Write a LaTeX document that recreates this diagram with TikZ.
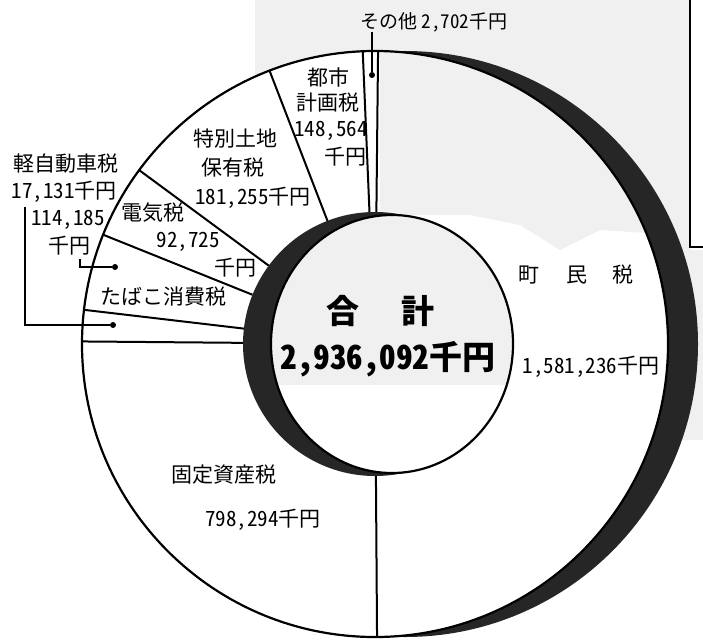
\documentclass[tikz,border=0pt]{standalone}
\usepackage{fontspec}
\setmainfont{Noto Sans CJK JP}
\newfontfamily\numf{Noto Sans CJK JP}[CharacterWidth=Half]
\newcommand\labfont{\fontsize{21}{24}\selectfont}
\newcommand\smallfont{\fontsize{19}{22}\selectfont}
\newcommand\bigfont{\fontsize{33}{36}\selectfont\bfseries}
\colorlet{bgdot}{black!6}
\colorlet{darkband}{black!85}
\begin{document}
\begin{tikzpicture}[x=1pt,y=-1pt,
  lbl/.style={font=\labfont, inner sep=0pt},
  seg/.style={line width=2pt},
  rim/.style={line width=2.2pt},
  leader/.style={line width=1.2pt},
  dotmark/.style={circle, fill=black, minimum size=6pt, inner sep=0pt}]
\useasboundingbox (0,0) rectangle (703,639);
\fill[white] (0,0) rectangle (703,639);
% background stipple areas
\fill[bgdot] (255,0) -- (690,0) -- (690,250) -- (703,250) -- (703,440) -- (600,440) -- (600,150) -- (255,150) -- cycle;
\coordinate (c) at (375,344);
\coordinate (cs) at (405,344);
% outer shadow and ring
\fill[darkband] (cs) circle[radius=293pt];
\fill[white] (c) circle[radius=293pt];
\begin{scope}
  \clip (c) -- ([shift={(89.4:300pt)}]c) -- (700,40) -- (700,639) -- ([shift={(270.4:300pt)}]c) -- cycle;
  \clip (c) circle[radius=293pt];
  \fill[bgdot] (380,40) -- (680,40) -- (680,235) -- (600,230) -- (560,250) -- (520,225) -- (470,215) -- (380,215) -- cycle;
\end{scope}
\draw[rim] (c) circle[radius=293pt];
% segment boundaries
\foreach \a in {89.4,92.4,111.1,143.6,158.1,173.3,179.5,270.4}
  \draw[seg] ([shift={(\a:132pt)}]c) -- ([shift={(\a:293pt)}]c);
% inner shadow crescent and centre disk
\fill[darkband] (c) circle[radius=132pt];
\coordinate (ci) at (392,344);
\fill[white] (ci) ellipse[x radius=121pt, y radius=129pt];
\begin{scope}
  \clip (ci) ellipse[x radius=121pt, y radius=129pt];
  \fill[bgdot] (260,200) rectangle (520,385);
\end{scope}
\draw[rim] (ci) ellipse[x radius=121pt, y radius=129pt];
% box at top right
\draw[line width=1.8pt] (704,247) -- (690,247) -- (690,-2);
% labels
\node[lbl, font=\smallfont] (sonota) at (434,22) {その他 {\numf 2,702}千円};
\node[dotmark] (dso) at (372,75) {};
\draw[leader] (sonota.south -| dso) -- (dso);

\node[lbl] (tk1) at (328,78) {都市};
\node[lbl] (tk2) at (328,103) {計画税};
\node[lbl] (tk3) at (331,131) {\numf 148,564};
\node[lbl] (tk4) at (345,157) {千円};

\node[lbl] (to1) at (235,139) {特別土地};
\node[lbl] (to2) at (233,168) {保有税};
\node[lbl] (to3) at (253,198) {{\numf 181,255}千円};

\node[lbl] (kj1) at (66,164) {軽自動車税};
\node[lbl] (kj2) at (64,192) {{\numf 17,131}千円};

\node[lbl] (tb1) at (68,220) {\numf 114,185};
\node[lbl] (tb2) at (69,246) {千円};

\node[lbl] (dk1) at (153,213) {電気税};
\node[lbl] (dk2) at (188,242) {\numf 92,725};
\node[lbl] (dk3) at (235,268) {千円};

\node[lbl] (tbk) at (163,297) {たばこ消費税};

\node[dotmark] (dtb) at (115,267) {};
\coordinate (ltb) at (80,259);
\draw[leader] (ltb) |- (dtb);
\node[dotmark] (dkj) at (113,325) {};
\coordinate (lkj) at (25,207);
\draw[leader] (lkj) |- (dkj);

\node[lbl] (ch1) at (529,275) {町};
\node[lbl] (ch2) at (577,275) {民};
\node[lbl] (ch3) at (623,275) {税};
\node[lbl] (ch4) at (591,367) {{\numf 1,581,236}千円};

\node[lbl] (kt1) at (224,475) {固定資産税};
\node[lbl] (kt2) at (263,520) {{\numf 798,294}千円};

\node[lbl, font=\bigfont] (gk1) at (343,311) {合};
\node[lbl, font=\bigfont] (gk2) at (418,311) {計};
\node[lbl, font=\bigfont] (gk3) at (388,359) {{\numf 2,936,092}千円};
\end{tikzpicture}
\end{document}
